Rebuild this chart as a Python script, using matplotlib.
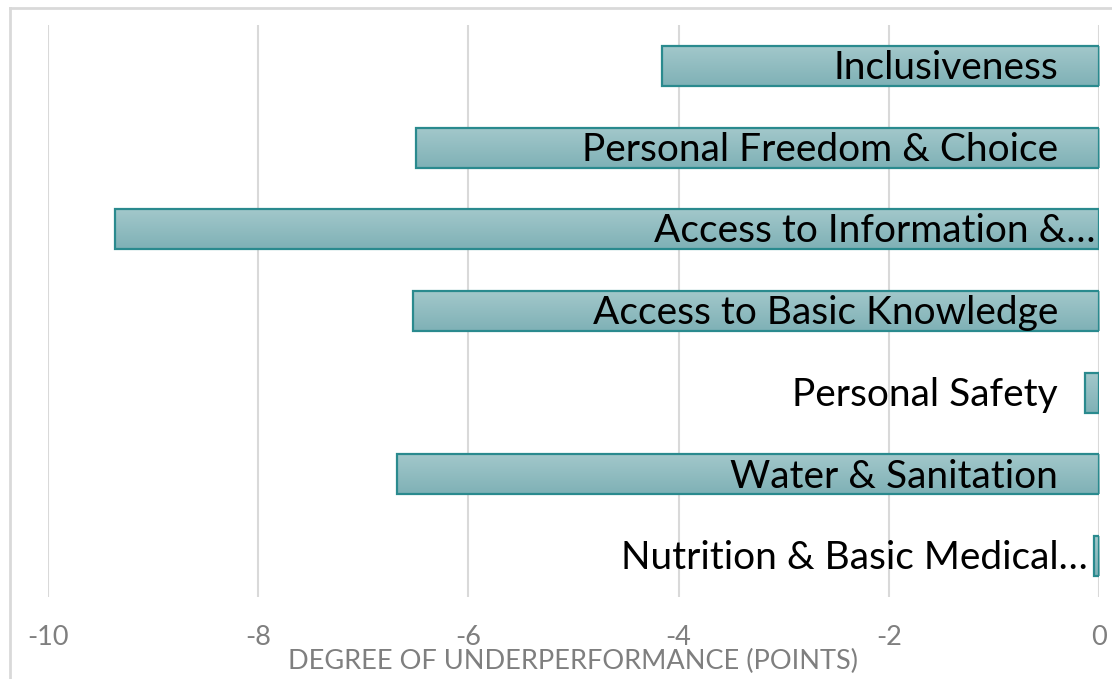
import numpy as np
import matplotlib
matplotlib.use('Agg')
from matplotlib import pyplot as plt
from matplotlib.lines import Line2D

categories = ['Nutrition & Basic Medical…', 'Water & Sanitation', 'Personal Safety',
              'Access to Basic Knowledge', 'Access to Information &…',
              'Personal Freedom & Choice', 'Inclusiveness']
values = [-0.05, -6.68, -0.13, -6.53, -9.36, -6.50, -4.16]
x_ticks = [-10, -8, -6, -4, -2, 0]
x_title = 'DEGREE OF UNDERPERFORMANCE (POINTS)'

plt.rcParams['font.family'] = ['Lato', 'DejaVu Sans']

W, H = 1112, 679
fig = plt.figure(figsize=(W / 100, H / 100), dpi=100)
ax = fig.add_axes([48 / W, 1 - 597 / H, (1099 - 48) / W, (597 - 25) / H])

# outer chart frame (cropped on right/bottom)
fig.add_artist(Line2D([10 / W, 10 / W], [1 - 8 / H, 0], transform=fig.transFigure,
                      color='#d9d9d9', lw=2))
fig.add_artist(Line2D([10 / W, 1], [1 - 8 / H, 1 - 8 / H], transform=fig.transFigure,
                      color='#d9d9d9', lw=2))

y = np.arange(len(categories))
bars = ax.barh(y, values, height=0.49, color='none', edgecolor='#2a8a8e',
               linewidth=1.6, zorder=3)

# vertical gradient fill for each bar
grad = np.linspace(0, 1, 64).reshape(-1, 1)
cmap = matplotlib.colors.LinearSegmentedColormap.from_list('g', ['#a3c8cb', '#7fb1b6'])
for b in bars:
    x0, yb = b.get_x(), b.get_y()
    w, h = b.get_width(), b.get_height()
    im = ax.imshow(grad, cmap=cmap, aspect='auto', origin='lower',
                   extent=[x0, x0 + w, yb + h, yb], zorder=2)
    im.set_clip_path(b)

for i, (lab, v) in enumerate(zip(categories, values)):
    pad = 4 if lab.endswith('…') else 41
    if lab.startswith('Nutrition'):
        pad = 11
    ax.annotate(lab, (0, i), xytext=(-pad * 0.72, -1.5), textcoords='offset points',
                ha='right', va='center', fontsize=28, color='black', zorder=4)

ax.set_xlim(-10, 0)
ax.set_ylim(-0.5, len(categories) - 0.5)
ax.set_xticks(x_ticks)
ax.set_xticklabels([str(t) for t in x_ticks], fontsize=19.5, color='#7f7f7f')
ax.set_yticks([])
ax.tick_params(axis='x', length=0, pad=20)
ax.grid(axis='x', color='#d9d9d9', lw=1.5, zorder=0)
for s in ax.spines.values():
    s.set_visible(False)

fig.text(573 / W, 1 - 661 / H, x_title, ha='center', va='center',
         fontsize=19.5, color='#7f7f7f')

fig.savefig('out.png', dpi=100)
